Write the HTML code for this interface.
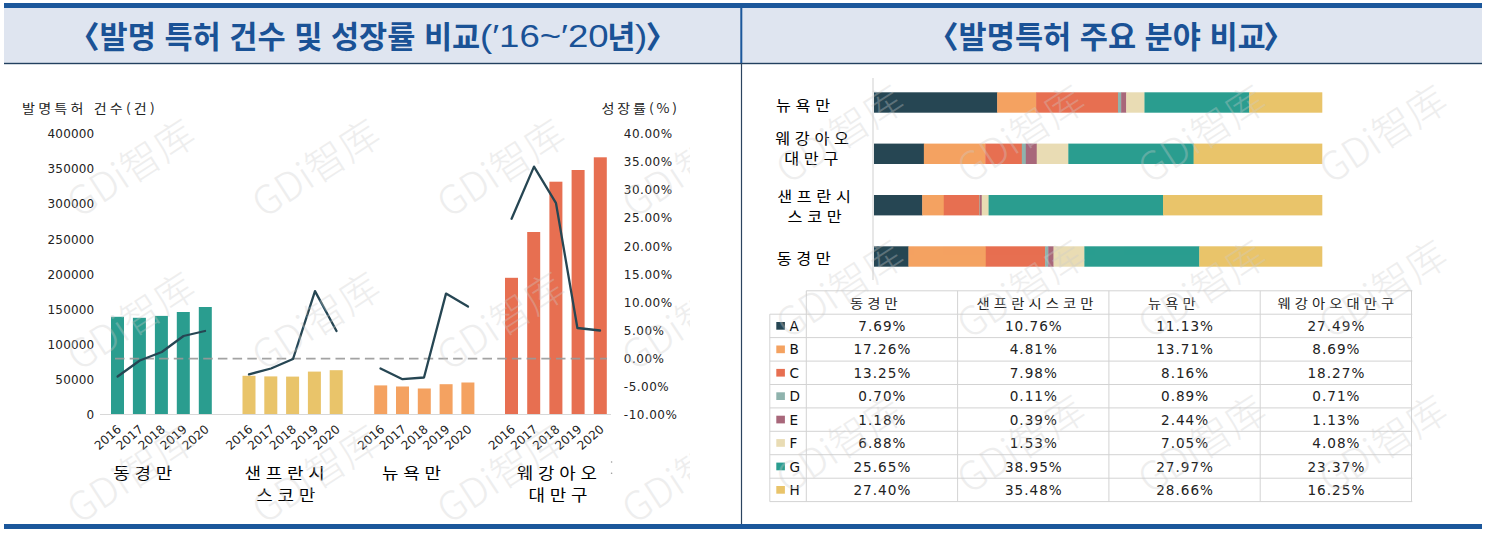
<!DOCTYPE html>
<html lang="ko"><head><meta charset="utf-8"><title>발명특허 비교</title>
<style>
html,body{margin:0;padding:0;background:#fff}
body{width:1485px;height:533px;overflow:hidden;position:relative}
svg{position:absolute;left:0;top:0}
.title{position:absolute;top:12.5px;white-space:nowrap;color:#1a5296;font-size:31px;line-height:44px;height:44px}
.k{font-family:"Noto Sans CJK KR","Liberation Sans",sans-serif;font-weight:700;font-size:30.6px}
.b9{font-weight:900}
.l{font-family:"Liberation Sans","Noto Sans CJK KR",sans-serif;font-weight:400;display:inline-block;transform:scaleX(1.18);transform-origin:0 0;position:relative;top:-1px}
</style></head><body>
<svg width="1485" height="533" viewBox="0 0 1485 533">
<rect x="4" y="3" width="1478" height="5" fill="#1b579b"/>
<rect x="4" y="8" width="1478" height="55" fill="#dfe5f0"/>
<rect x="4" y="62.8" width="1478" height="1.4" fill="#22405f"/>
<rect x="740.3" y="8" width="2" height="55" fill="#1b579b"/>
<rect x="740.9" y="63" width="1.2" height="461" fill="#2b4460"/>
<rect x="4" y="524" width="1478" height="5" fill="#1b579b"/>
<text transform="translate(22.0,112.5) scale(1.1,1)" font-family='"Noto Sans CJK KR","Liberation Sans",sans-serif' font-size="12.8" letter-spacing="2.9" fill="#222">발명특허 건수(건)</text>
<text transform="translate(601.5,112.5) scale(1.1,1)" font-family='"Noto Sans CJK KR","Liberation Sans",sans-serif' font-size="12.8" letter-spacing="2.6" fill="#222">성장률(%)</text>
<text x="94.3" y="138.1" text-anchor="end" font-family='"DejaVu Sans","Liberation Sans",sans-serif' font-size="12" letter-spacing="0.15" fill="#222">400000</text>
<text x="94.3" y="173.2" text-anchor="end" font-family='"DejaVu Sans","Liberation Sans",sans-serif' font-size="12" letter-spacing="0.15" fill="#222">350000</text>
<text x="94.3" y="208.3" text-anchor="end" font-family='"DejaVu Sans","Liberation Sans",sans-serif' font-size="12" letter-spacing="0.15" fill="#222">300000</text>
<text x="94.3" y="243.5" text-anchor="end" font-family='"DejaVu Sans","Liberation Sans",sans-serif' font-size="12" letter-spacing="0.15" fill="#222">250000</text>
<text x="94.3" y="278.6" text-anchor="end" font-family='"DejaVu Sans","Liberation Sans",sans-serif' font-size="12" letter-spacing="0.15" fill="#222">200000</text>
<text x="94.3" y="313.7" text-anchor="end" font-family='"DejaVu Sans","Liberation Sans",sans-serif' font-size="12" letter-spacing="0.15" fill="#222">150000</text>
<text x="94.3" y="348.9" text-anchor="end" font-family='"DejaVu Sans","Liberation Sans",sans-serif' font-size="12" letter-spacing="0.15" fill="#222">100000</text>
<text x="94.3" y="384.0" text-anchor="end" font-family='"DejaVu Sans","Liberation Sans",sans-serif' font-size="12" letter-spacing="0.15" fill="#222">50000</text>
<text x="94.3" y="419.1" text-anchor="end" font-family='"DejaVu Sans","Liberation Sans",sans-serif' font-size="12" letter-spacing="0.15" fill="#222">0</text>
<text x="623.8" y="138.1" font-family='"DejaVu Sans","Liberation Sans",sans-serif' font-size="12" letter-spacing="0.5" fill="#222">40.00%</text>
<text x="623.8" y="166.2" font-family='"DejaVu Sans","Liberation Sans",sans-serif' font-size="12" letter-spacing="0.5" fill="#222">35.00%</text>
<text x="623.8" y="194.3" font-family='"DejaVu Sans","Liberation Sans",sans-serif' font-size="12" letter-spacing="0.5" fill="#222">30.00%</text>
<text x="623.8" y="222.4" font-family='"DejaVu Sans","Liberation Sans",sans-serif' font-size="12" letter-spacing="0.5" fill="#222">25.00%</text>
<text x="623.8" y="250.5" font-family='"DejaVu Sans","Liberation Sans",sans-serif' font-size="12" letter-spacing="0.5" fill="#222">20.00%</text>
<text x="623.8" y="278.6" font-family='"DejaVu Sans","Liberation Sans",sans-serif' font-size="12" letter-spacing="0.5" fill="#222">15.00%</text>
<text x="623.8" y="306.7" font-family='"DejaVu Sans","Liberation Sans",sans-serif' font-size="12" letter-spacing="0.5" fill="#222">10.00%</text>
<text x="623.8" y="334.8" font-family='"DejaVu Sans","Liberation Sans",sans-serif' font-size="12" letter-spacing="0.5" fill="#222">5.00%</text>
<text x="623.8" y="362.9" font-family='"DejaVu Sans","Liberation Sans",sans-serif' font-size="12" letter-spacing="0.5" fill="#222">0.00%</text>
<text x="623.8" y="391.0" font-family='"DejaVu Sans","Liberation Sans",sans-serif' font-size="12" letter-spacing="0.5" fill="#222">-5.00%</text>
<text x="623.8" y="419.1" font-family='"DejaVu Sans","Liberation Sans",sans-serif' font-size="12" letter-spacing="0.5" fill="#222">-10.00%</text>
<rect x="100" y="414" width="511" height="1" fill="#d8d8d8"/>
<rect x="111.0" y="316.8" width="13" height="97.2" fill="#2a9d8f"/>
<rect x="132.9" y="317.8" width="13" height="96.2" fill="#2a9d8f"/>
<rect x="154.9" y="315.9" width="13" height="98.1" fill="#2a9d8f"/>
<rect x="176.8" y="312.0" width="13" height="102.0" fill="#2a9d8f"/>
<rect x="198.8" y="307.0" width="13" height="107.0" fill="#2a9d8f"/>
<rect x="242.5" y="375.8" width="13" height="38.2" fill="#e9c46a"/>
<rect x="264.3" y="376.4" width="13" height="37.6" fill="#e9c46a"/>
<rect x="286.1" y="376.6" width="13" height="37.4" fill="#e9c46a"/>
<rect x="307.9" y="371.6" width="13" height="42.4" fill="#e9c46a"/>
<rect x="329.7" y="370.2" width="13" height="43.8" fill="#e9c46a"/>
<rect x="374.2" y="385.4" width="13" height="28.6" fill="#f4a261"/>
<rect x="396.0" y="386.5" width="13" height="27.5" fill="#f4a261"/>
<rect x="417.8" y="388.5" width="13" height="25.5" fill="#f4a261"/>
<rect x="439.6" y="384.2" width="13" height="29.8" fill="#f4a261"/>
<rect x="461.4" y="382.5" width="13" height="31.5" fill="#f4a261"/>
<rect x="505.0" y="277.8" width="13" height="136.2" fill="#e76f51"/>
<rect x="527.2" y="232.0" width="13" height="182.0" fill="#e76f51"/>
<rect x="549.4" y="181.7" width="13" height="232.3" fill="#e76f51"/>
<rect x="571.6" y="170.0" width="13" height="244.0" fill="#e76f51"/>
<rect x="593.8" y="157.3" width="13" height="256.7" fill="#e76f51"/>
<line x1="115" y1="358.6" x2="607" y2="358.6" stroke="#9a9a9a" stroke-width="1.6" stroke-dasharray="9.5 5.2" opacity="0.9"/>
<polyline points="117.6,376.5 139.8,360.5 161.8,352.0 183.5,336.0 205.0,331.0" fill="none" stroke="#264653" stroke-width="2.3" stroke-linejoin="round" stroke-linecap="round"/>
<polyline points="249.0,374.4 271.0,368.5 293.0,359.0 315.0,291.1 336.5,331.0" fill="none" stroke="#264653" stroke-width="2.3" stroke-linejoin="round" stroke-linecap="round"/>
<polyline points="380.5,368.5 402.5,379.2 424.0,377.5 446.0,293.6 468.0,306.6" fill="none" stroke="#264653" stroke-width="2.3" stroke-linejoin="round" stroke-linecap="round"/>
<polyline points="511.6,218.8 534.0,166.6 556.0,203.2 577.4,328.0 600.0,330.5" fill="none" stroke="#264653" stroke-width="2.3" stroke-linejoin="round" stroke-linecap="round"/>
<text transform="translate(122.0,430.5) rotate(-41)" text-anchor="end" font-family='"DejaVu Sans","Liberation Sans",sans-serif' font-size="12" fill="#222">2016</text>
<text transform="translate(143.9,430.5) rotate(-41)" text-anchor="end" font-family='"DejaVu Sans","Liberation Sans",sans-serif' font-size="12" fill="#222">2017</text>
<text transform="translate(165.9,430.5) rotate(-41)" text-anchor="end" font-family='"DejaVu Sans","Liberation Sans",sans-serif' font-size="12" fill="#222">2018</text>
<text transform="translate(187.8,430.5) rotate(-41)" text-anchor="end" font-family='"DejaVu Sans","Liberation Sans",sans-serif' font-size="12" fill="#222">2019</text>
<text transform="translate(209.8,430.5) rotate(-41)" text-anchor="end" font-family='"DejaVu Sans","Liberation Sans",sans-serif' font-size="12" fill="#222">2020</text>
<text transform="translate(253.5,430.5) rotate(-41)" text-anchor="end" font-family='"DejaVu Sans","Liberation Sans",sans-serif' font-size="12" fill="#222">2016</text>
<text transform="translate(275.3,430.5) rotate(-41)" text-anchor="end" font-family='"DejaVu Sans","Liberation Sans",sans-serif' font-size="12" fill="#222">2017</text>
<text transform="translate(297.1,430.5) rotate(-41)" text-anchor="end" font-family='"DejaVu Sans","Liberation Sans",sans-serif' font-size="12" fill="#222">2018</text>
<text transform="translate(318.9,430.5) rotate(-41)" text-anchor="end" font-family='"DejaVu Sans","Liberation Sans",sans-serif' font-size="12" fill="#222">2019</text>
<text transform="translate(340.7,430.5) rotate(-41)" text-anchor="end" font-family='"DejaVu Sans","Liberation Sans",sans-serif' font-size="12" fill="#222">2020</text>
<text transform="translate(385.2,430.5) rotate(-41)" text-anchor="end" font-family='"DejaVu Sans","Liberation Sans",sans-serif' font-size="12" fill="#222">2016</text>
<text transform="translate(407.0,430.5) rotate(-41)" text-anchor="end" font-family='"DejaVu Sans","Liberation Sans",sans-serif' font-size="12" fill="#222">2017</text>
<text transform="translate(428.8,430.5) rotate(-41)" text-anchor="end" font-family='"DejaVu Sans","Liberation Sans",sans-serif' font-size="12" fill="#222">2018</text>
<text transform="translate(450.6,430.5) rotate(-41)" text-anchor="end" font-family='"DejaVu Sans","Liberation Sans",sans-serif' font-size="12" fill="#222">2019</text>
<text transform="translate(472.4,430.5) rotate(-41)" text-anchor="end" font-family='"DejaVu Sans","Liberation Sans",sans-serif' font-size="12" fill="#222">2020</text>
<text transform="translate(516.0,430.5) rotate(-41)" text-anchor="end" font-family='"DejaVu Sans","Liberation Sans",sans-serif' font-size="12" fill="#222">2016</text>
<text transform="translate(538.2,430.5) rotate(-41)" text-anchor="end" font-family='"DejaVu Sans","Liberation Sans",sans-serif' font-size="12" fill="#222">2017</text>
<text transform="translate(560.4,430.5) rotate(-41)" text-anchor="end" font-family='"DejaVu Sans","Liberation Sans",sans-serif' font-size="12" fill="#222">2018</text>
<text transform="translate(582.6,430.5) rotate(-41)" text-anchor="end" font-family='"DejaVu Sans","Liberation Sans",sans-serif' font-size="12" fill="#222">2019</text>
<text transform="translate(604.8,430.5) rotate(-41)" text-anchor="end" font-family='"DejaVu Sans","Liberation Sans",sans-serif' font-size="12" fill="#222">2020</text>
<text transform="translate(113.2,479.4) scale(1.12,1)" font-family='"Noto Sans CJK KR","Liberation Sans",sans-serif' font-size="16" letter-spacing="4.3" fill="#000">동경만</text>
<text transform="translate(244.4,479.4) scale(1.12,1)" font-family='"Noto Sans CJK KR","Liberation Sans",sans-serif' font-size="16" letter-spacing="4.3" fill="#000">샌프란시</text>
<text transform="translate(256.2,501.0) scale(1.12,1)" font-family='"Noto Sans CJK KR","Liberation Sans",sans-serif' font-size="16" letter-spacing="4.3" fill="#000">스코만</text>
<text transform="translate(381.9,479.4) scale(1.12,1)" font-family='"Noto Sans CJK KR","Liberation Sans",sans-serif' font-size="16" letter-spacing="4.3" fill="#000">뉴욕만</text>
<text transform="translate(516.7,479.4) scale(1.12,1)" font-family='"Noto Sans CJK KR","Liberation Sans",sans-serif' font-size="16" letter-spacing="4.3" fill="#000">웨강아오</text>
<text transform="translate(528.5,500.6) scale(1.12,1)" font-family='"Noto Sans CJK KR","Liberation Sans",sans-serif' font-size="16" letter-spacing="4.3" fill="#000">대만구</text>
<circle cx="611.6" cy="462" r="0.8" fill="#999"/><circle cx="611.6" cy="473.3" r="0.8" fill="#999"/>
<rect x="872.5" y="78" width="1" height="202" fill="#cfcfcf"/>
<rect x="874.00" y="92.3" width="123.47" height="20.4" fill="#264653"/>
<rect x="997.17" y="92.3" width="39.24" height="20.4" fill="#f4a261"/>
<rect x="1036.10" y="92.3" width="82.16" height="20.4" fill="#e76f51"/>
<rect x="1117.96" y="92.3" width="3.48" height="20.4" fill="#8fb3ad"/>
<rect x="1121.14" y="92.3" width="5.36" height="20.4" fill="#a8677a"/>
<rect x="1126.20" y="92.3" width="18.58" height="20.4" fill="#e9dcb4"/>
<rect x="1144.48" y="92.3" width="105.01" height="20.4" fill="#2a9d8f"/>
<rect x="1249.19" y="92.3" width="73.11" height="20.4" fill="#e9c46a"/>
<rect x="874.00" y="143.6" width="50.16" height="20.4" fill="#264653"/>
<rect x="923.86" y="143.6" width="61.71" height="20.4" fill="#f4a261"/>
<rect x="985.27" y="143.6" width="36.85" height="20.4" fill="#e76f51"/>
<rect x="1021.83" y="143.6" width="4.29" height="20.4" fill="#8fb3ad"/>
<rect x="1025.81" y="143.6" width="11.23" height="20.4" fill="#a8677a"/>
<rect x="1036.74" y="143.6" width="31.88" height="20.4" fill="#e9dcb4"/>
<rect x="1068.32" y="143.6" width="125.59" height="20.4" fill="#2a9d8f"/>
<rect x="1193.62" y="143.6" width="128.68" height="20.4" fill="#e9c46a"/>
<rect x="874.00" y="195.0" width="48.50" height="20.4" fill="#264653"/>
<rect x="922.20" y="195.0" width="21.85" height="20.4" fill="#f4a261"/>
<rect x="943.75" y="195.0" width="36.05" height="20.4" fill="#e76f51"/>
<rect x="979.49" y="195.0" width="0.79" height="20.4" fill="#8fb3ad"/>
<rect x="979.99" y="195.0" width="2.05" height="20.4" fill="#a8677a"/>
<rect x="981.73" y="195.0" width="7.15" height="20.4" fill="#e9dcb4"/>
<rect x="988.59" y="195.0" width="174.78" height="20.4" fill="#2a9d8f"/>
<rect x="1163.07" y="195.0" width="159.23" height="20.4" fill="#e9c46a"/>
<rect x="874.00" y="246.3" width="34.75" height="20.4" fill="#264653"/>
<rect x="908.45" y="246.3" width="77.62" height="20.4" fill="#f4a261"/>
<rect x="985.76" y="246.3" width="59.65" height="20.4" fill="#e76f51"/>
<rect x="1045.12" y="246.3" width="3.44" height="20.4" fill="#8fb3ad"/>
<rect x="1048.25" y="246.3" width="5.59" height="20.4" fill="#a8677a"/>
<rect x="1053.54" y="246.3" width="31.12" height="20.4" fill="#e9dcb4"/>
<rect x="1084.36" y="246.3" width="115.20" height="20.4" fill="#2a9d8f"/>
<rect x="1199.26" y="246.3" width="123.04" height="20.4" fill="#e9c46a"/>
<text transform="translate(776.0,111.2) scale(1.12,1)" font-family='"Noto Sans CJK KR","Liberation Sans",sans-serif' font-size="14.5" letter-spacing="4.15" fill="#000">뉴욕만</text>
<text transform="translate(775.3,144.3) scale(1.12,1)" font-family='"Noto Sans CJK KR","Liberation Sans",sans-serif' font-size="14.5" letter-spacing="4.15" fill="#000">웨강아오</text>
<text transform="translate(784.3,163.7) scale(1.12,1)" font-family='"Noto Sans CJK KR","Liberation Sans",sans-serif' font-size="14.5" letter-spacing="4.15" fill="#000">대만구</text>
<text transform="translate(777.2,201.5) scale(1.12,1)" font-family='"Noto Sans CJK KR","Liberation Sans",sans-serif' font-size="14.5" letter-spacing="4.15" fill="#000">샌프란시</text>
<text transform="translate(787.6,221.8) scale(1.12,1)" font-family='"Noto Sans CJK KR","Liberation Sans",sans-serif' font-size="14.5" letter-spacing="4.15" fill="#000">스코만</text>
<text transform="translate(776.7,264.0) scale(1.12,1)" font-family='"Noto Sans CJK KR","Liberation Sans",sans-serif' font-size="14.5" letter-spacing="4.15" fill="#000">동경만</text>
<rect x="806.3" y="290.3" width="606.0" height="1" fill="#d3d3d3"/>
<rect x="769.8" y="313.7" width="642.5" height="1" fill="#d3d3d3"/>
<rect x="769.8" y="337.1" width="642.5" height="1" fill="#d3d3d3"/>
<rect x="769.8" y="360.6" width="642.5" height="1" fill="#d3d3d3"/>
<rect x="769.8" y="384.0" width="642.5" height="1" fill="#d3d3d3"/>
<rect x="769.8" y="407.4" width="642.5" height="1" fill="#d3d3d3"/>
<rect x="769.8" y="430.8" width="642.5" height="1" fill="#d3d3d3"/>
<rect x="769.8" y="454.2" width="642.5" height="1" fill="#d3d3d3"/>
<rect x="769.8" y="477.7" width="642.5" height="1" fill="#d3d3d3"/>
<rect x="769.8" y="501.1" width="642.5" height="1" fill="#d3d3d3"/>
<rect x="769.3" y="314.2" width="1" height="187.4" fill="#d3d3d3"/>
<rect x="805.8" y="290.8" width="1" height="210.8" fill="#d3d3d3"/>
<rect x="957.1" y="290.8" width="1" height="210.8" fill="#d3d3d3"/>
<rect x="1108.4" y="290.8" width="1" height="210.8" fill="#d3d3d3"/>
<rect x="1259.7" y="290.8" width="1" height="210.8" fill="#d3d3d3"/>
<rect x="1411.0" y="290.8" width="1" height="210.8" fill="#d3d3d3"/>
<text transform="translate(850.0,308.1) scale(1.12,1)" font-family='"Noto Sans CJK KR","Liberation Sans",sans-serif' font-size="12.8" letter-spacing="3.65" fill="#222">동경만</text>
<text transform="translate(976.6,308.1) scale(1.12,1)" font-family='"Noto Sans CJK KR","Liberation Sans",sans-serif' font-size="12.8" letter-spacing="3.65" fill="#222">샌프란시스코만</text>
<text transform="translate(1147.9,308.1) scale(1.12,1)" font-family='"Noto Sans CJK KR","Liberation Sans",sans-serif' font-size="12.8" letter-spacing="3.65" fill="#222">뉴욕만</text>
<text transform="translate(1277.5,308.1) scale(1.12,1)" font-family='"Noto Sans CJK KR","Liberation Sans",sans-serif' font-size="12.8" letter-spacing="3.65" fill="#222">웨강아오대만구</text>
<rect x="776.3" y="322.0" width="8.6" height="7.7" fill="#264653"/>
<text x="789.6" y="330.9" font-family='"DejaVu Sans","Liberation Sans",sans-serif' font-size="13.6" fill="#111">A</text>
<text x="882.4" y="330.9" text-anchor="middle" font-family='"DejaVu Sans","Liberation Sans",sans-serif' font-size="13.6" letter-spacing="1.0" fill="#222">7.69%</text>
<text x="1033.8" y="330.9" text-anchor="middle" font-family='"DejaVu Sans","Liberation Sans",sans-serif' font-size="13.6" letter-spacing="1.0" fill="#222">10.76%</text>
<text x="1185.1" y="330.9" text-anchor="middle" font-family='"DejaVu Sans","Liberation Sans",sans-serif' font-size="13.6" letter-spacing="1.0" fill="#222">11.13%</text>
<text x="1336.4" y="330.9" text-anchor="middle" font-family='"DejaVu Sans","Liberation Sans",sans-serif' font-size="13.6" letter-spacing="1.0" fill="#222">27.49%</text>
<rect x="776.3" y="345.5" width="8.6" height="7.7" fill="#f4a261"/>
<text x="789.6" y="354.4" font-family='"DejaVu Sans","Liberation Sans",sans-serif' font-size="13.6" fill="#111">B</text>
<text x="882.4" y="354.4" text-anchor="middle" font-family='"DejaVu Sans","Liberation Sans",sans-serif' font-size="13.6" letter-spacing="1.0" fill="#222">17.26%</text>
<text x="1033.8" y="354.4" text-anchor="middle" font-family='"DejaVu Sans","Liberation Sans",sans-serif' font-size="13.6" letter-spacing="1.0" fill="#222">4.81%</text>
<text x="1185.1" y="354.4" text-anchor="middle" font-family='"DejaVu Sans","Liberation Sans",sans-serif' font-size="13.6" letter-spacing="1.0" fill="#222">13.71%</text>
<text x="1336.4" y="354.4" text-anchor="middle" font-family='"DejaVu Sans","Liberation Sans",sans-serif' font-size="13.6" letter-spacing="1.0" fill="#222">8.69%</text>
<rect x="776.3" y="368.9" width="8.6" height="7.7" fill="#e76f51"/>
<text x="789.6" y="377.8" font-family='"DejaVu Sans","Liberation Sans",sans-serif' font-size="13.6" fill="#111">C</text>
<text x="882.4" y="377.8" text-anchor="middle" font-family='"DejaVu Sans","Liberation Sans",sans-serif' font-size="13.6" letter-spacing="1.0" fill="#222">13.25%</text>
<text x="1033.8" y="377.8" text-anchor="middle" font-family='"DejaVu Sans","Liberation Sans",sans-serif' font-size="13.6" letter-spacing="1.0" fill="#222">7.98%</text>
<text x="1185.1" y="377.8" text-anchor="middle" font-family='"DejaVu Sans","Liberation Sans",sans-serif' font-size="13.6" letter-spacing="1.0" fill="#222">8.16%</text>
<text x="1336.4" y="377.8" text-anchor="middle" font-family='"DejaVu Sans","Liberation Sans",sans-serif' font-size="13.6" letter-spacing="1.0" fill="#222">18.27%</text>
<rect x="776.3" y="392.3" width="8.6" height="7.7" fill="#8fb3ad"/>
<text x="789.6" y="401.2" font-family='"DejaVu Sans","Liberation Sans",sans-serif' font-size="13.6" fill="#111">D</text>
<text x="882.4" y="401.2" text-anchor="middle" font-family='"DejaVu Sans","Liberation Sans",sans-serif' font-size="13.6" letter-spacing="1.0" fill="#222">0.70%</text>
<text x="1033.8" y="401.2" text-anchor="middle" font-family='"DejaVu Sans","Liberation Sans",sans-serif' font-size="13.6" letter-spacing="1.0" fill="#222">0.11%</text>
<text x="1185.1" y="401.2" text-anchor="middle" font-family='"DejaVu Sans","Liberation Sans",sans-serif' font-size="13.6" letter-spacing="1.0" fill="#222">0.89%</text>
<text x="1336.4" y="401.2" text-anchor="middle" font-family='"DejaVu Sans","Liberation Sans",sans-serif' font-size="13.6" letter-spacing="1.0" fill="#222">0.71%</text>
<rect x="776.3" y="415.7" width="8.6" height="7.7" fill="#a8677a"/>
<text x="789.6" y="424.6" font-family='"DejaVu Sans","Liberation Sans",sans-serif' font-size="13.6" fill="#111">E</text>
<text x="882.4" y="424.6" text-anchor="middle" font-family='"DejaVu Sans","Liberation Sans",sans-serif' font-size="13.6" letter-spacing="1.0" fill="#222">1.18%</text>
<text x="1033.8" y="424.6" text-anchor="middle" font-family='"DejaVu Sans","Liberation Sans",sans-serif' font-size="13.6" letter-spacing="1.0" fill="#222">0.39%</text>
<text x="1185.1" y="424.6" text-anchor="middle" font-family='"DejaVu Sans","Liberation Sans",sans-serif' font-size="13.6" letter-spacing="1.0" fill="#222">2.44%</text>
<text x="1336.4" y="424.6" text-anchor="middle" font-family='"DejaVu Sans","Liberation Sans",sans-serif' font-size="13.6" letter-spacing="1.0" fill="#222">1.13%</text>
<rect x="776.3" y="439.1" width="8.6" height="7.7" fill="#e9dcb4"/>
<text x="789.6" y="448.0" font-family='"DejaVu Sans","Liberation Sans",sans-serif' font-size="13.6" fill="#111">F</text>
<text x="882.4" y="448.0" text-anchor="middle" font-family='"DejaVu Sans","Liberation Sans",sans-serif' font-size="13.6" letter-spacing="1.0" fill="#222">6.88%</text>
<text x="1033.8" y="448.0" text-anchor="middle" font-family='"DejaVu Sans","Liberation Sans",sans-serif' font-size="13.6" letter-spacing="1.0" fill="#222">1.53%</text>
<text x="1185.1" y="448.0" text-anchor="middle" font-family='"DejaVu Sans","Liberation Sans",sans-serif' font-size="13.6" letter-spacing="1.0" fill="#222">7.05%</text>
<text x="1336.4" y="448.0" text-anchor="middle" font-family='"DejaVu Sans","Liberation Sans",sans-serif' font-size="13.6" letter-spacing="1.0" fill="#222">4.08%</text>
<rect x="776.3" y="462.6" width="8.6" height="7.7" fill="#2a9d8f"/>
<text x="789.6" y="471.5" font-family='"DejaVu Sans","Liberation Sans",sans-serif' font-size="13.6" fill="#111">G</text>
<text x="882.4" y="471.5" text-anchor="middle" font-family='"DejaVu Sans","Liberation Sans",sans-serif' font-size="13.6" letter-spacing="1.0" fill="#222">25.65%</text>
<text x="1033.8" y="471.5" text-anchor="middle" font-family='"DejaVu Sans","Liberation Sans",sans-serif' font-size="13.6" letter-spacing="1.0" fill="#222">38.95%</text>
<text x="1185.1" y="471.5" text-anchor="middle" font-family='"DejaVu Sans","Liberation Sans",sans-serif' font-size="13.6" letter-spacing="1.0" fill="#222">27.97%</text>
<text x="1336.4" y="471.5" text-anchor="middle" font-family='"DejaVu Sans","Liberation Sans",sans-serif' font-size="13.6" letter-spacing="1.0" fill="#222">23.37%</text>
<rect x="776.3" y="486.0" width="8.6" height="7.7" fill="#e9c46a"/>
<text x="789.6" y="494.9" font-family='"DejaVu Sans","Liberation Sans",sans-serif' font-size="13.6" fill="#111">H</text>
<text x="882.4" y="494.9" text-anchor="middle" font-family='"DejaVu Sans","Liberation Sans",sans-serif' font-size="13.6" letter-spacing="1.0" fill="#222">27.40%</text>
<text x="1033.8" y="494.9" text-anchor="middle" font-family='"DejaVu Sans","Liberation Sans",sans-serif' font-size="13.6" letter-spacing="1.0" fill="#222">35.48%</text>
<text x="1185.1" y="494.9" text-anchor="middle" font-family='"DejaVu Sans","Liberation Sans",sans-serif' font-size="13.6" letter-spacing="1.0" fill="#222">28.66%</text>
<text x="1336.4" y="494.9" text-anchor="middle" font-family='"DejaVu Sans","Liberation Sans",sans-serif' font-size="13.6" letter-spacing="1.0" fill="#222">16.25%</text>
<defs><clipPath id="cl"><rect x="4" y="63.8" width="686" height="460.2"/></clipPath><clipPath id="cr"><rect x="750" y="63.8" width="732" height="460.2"/></clipPath></defs>
<g clip-path="url(#cl)"><text transform="translate(79,66) rotate(-33)" font-family="'Noto Sans CJK SC','Liberation Sans',sans-serif" font-weight="300" font-size="39.5" fill="#cccccc" opacity="0.33">GDi智库</text><text transform="translate(79,219) rotate(-33)" font-family="'Noto Sans CJK SC','Liberation Sans',sans-serif" font-weight="300" font-size="39.5" fill="#cccccc" opacity="0.33">GDi智库</text><text transform="translate(79,372) rotate(-33)" font-family="'Noto Sans CJK SC','Liberation Sans',sans-serif" font-weight="300" font-size="39.5" fill="#cccccc" opacity="0.33">GDi智库</text><text transform="translate(79,525) rotate(-33)" font-family="'Noto Sans CJK SC','Liberation Sans',sans-serif" font-weight="300" font-size="39.5" fill="#cccccc" opacity="0.33">GDi智库</text><text transform="translate(264,66) rotate(-33)" font-family="'Noto Sans CJK SC','Liberation Sans',sans-serif" font-weight="300" font-size="39.5" fill="#cccccc" opacity="0.33">GDi智库</text><text transform="translate(264,219) rotate(-33)" font-family="'Noto Sans CJK SC','Liberation Sans',sans-serif" font-weight="300" font-size="39.5" fill="#cccccc" opacity="0.33">GDi智库</text><text transform="translate(264,372) rotate(-33)" font-family="'Noto Sans CJK SC','Liberation Sans',sans-serif" font-weight="300" font-size="39.5" fill="#cccccc" opacity="0.33">GDi智库</text><text transform="translate(264,525) rotate(-33)" font-family="'Noto Sans CJK SC','Liberation Sans',sans-serif" font-weight="300" font-size="39.5" fill="#cccccc" opacity="0.33">GDi智库</text><text transform="translate(449,66) rotate(-33)" font-family="'Noto Sans CJK SC','Liberation Sans',sans-serif" font-weight="300" font-size="39.5" fill="#cccccc" opacity="0.33">GDi智库</text><text transform="translate(449,219) rotate(-33)" font-family="'Noto Sans CJK SC','Liberation Sans',sans-serif" font-weight="300" font-size="39.5" fill="#cccccc" opacity="0.33">GDi智库</text><text transform="translate(449,372) rotate(-33)" font-family="'Noto Sans CJK SC','Liberation Sans',sans-serif" font-weight="300" font-size="39.5" fill="#cccccc" opacity="0.33">GDi智库</text><text transform="translate(449,525) rotate(-33)" font-family="'Noto Sans CJK SC','Liberation Sans',sans-serif" font-weight="300" font-size="39.5" fill="#cccccc" opacity="0.33">GDi智库</text><text transform="translate(634,66) rotate(-33)" font-family="'Noto Sans CJK SC','Liberation Sans',sans-serif" font-weight="300" font-size="39.5" fill="#cccccc" opacity="0.33">GDi智库</text><text transform="translate(634,219) rotate(-33)" font-family="'Noto Sans CJK SC','Liberation Sans',sans-serif" font-weight="300" font-size="39.5" fill="#cccccc" opacity="0.33">GDi智库</text><text transform="translate(634,372) rotate(-33)" font-family="'Noto Sans CJK SC','Liberation Sans',sans-serif" font-weight="300" font-size="39.5" fill="#cccccc" opacity="0.33">GDi智库</text><text transform="translate(634,525) rotate(-33)" font-family="'Noto Sans CJK SC','Liberation Sans',sans-serif" font-weight="300" font-size="39.5" fill="#cccccc" opacity="0.33">GDi智库</text></g><g clip-path="url(#cr)"><text transform="translate(607,30) rotate(-33)" font-family="'Noto Sans CJK SC','Liberation Sans',sans-serif" font-weight="300" font-size="39.5" fill="#cccccc" opacity="0.33">GDi智库</text><text transform="translate(607,185) rotate(-33)" font-family="'Noto Sans CJK SC','Liberation Sans',sans-serif" font-weight="300" font-size="39.5" fill="#cccccc" opacity="0.33">GDi智库</text><text transform="translate(607,340) rotate(-33)" font-family="'Noto Sans CJK SC','Liberation Sans',sans-serif" font-weight="300" font-size="39.5" fill="#cccccc" opacity="0.33">GDi智库</text><text transform="translate(607,495) rotate(-33)" font-family="'Noto Sans CJK SC','Liberation Sans',sans-serif" font-weight="300" font-size="39.5" fill="#cccccc" opacity="0.33">GDi智库</text><text transform="translate(788,30) rotate(-33)" font-family="'Noto Sans CJK SC','Liberation Sans',sans-serif" font-weight="300" font-size="39.5" fill="#cccccc" opacity="0.33">GDi智库</text><text transform="translate(788,185) rotate(-33)" font-family="'Noto Sans CJK SC','Liberation Sans',sans-serif" font-weight="300" font-size="39.5" fill="#cccccc" opacity="0.33">GDi智库</text><text transform="translate(788,340) rotate(-33)" font-family="'Noto Sans CJK SC','Liberation Sans',sans-serif" font-weight="300" font-size="39.5" fill="#cccccc" opacity="0.33">GDi智库</text><text transform="translate(788,495) rotate(-33)" font-family="'Noto Sans CJK SC','Liberation Sans',sans-serif" font-weight="300" font-size="39.5" fill="#cccccc" opacity="0.33">GDi智库</text><text transform="translate(969,30) rotate(-33)" font-family="'Noto Sans CJK SC','Liberation Sans',sans-serif" font-weight="300" font-size="39.5" fill="#cccccc" opacity="0.33">GDi智库</text><text transform="translate(969,185) rotate(-33)" font-family="'Noto Sans CJK SC','Liberation Sans',sans-serif" font-weight="300" font-size="39.5" fill="#cccccc" opacity="0.33">GDi智库</text><text transform="translate(969,340) rotate(-33)" font-family="'Noto Sans CJK SC','Liberation Sans',sans-serif" font-weight="300" font-size="39.5" fill="#cccccc" opacity="0.33">GDi智库</text><text transform="translate(969,495) rotate(-33)" font-family="'Noto Sans CJK SC','Liberation Sans',sans-serif" font-weight="300" font-size="39.5" fill="#cccccc" opacity="0.33">GDi智库</text><text transform="translate(1150,30) rotate(-33)" font-family="'Noto Sans CJK SC','Liberation Sans',sans-serif" font-weight="300" font-size="39.5" fill="#cccccc" opacity="0.33">GDi智库</text><text transform="translate(1150,185) rotate(-33)" font-family="'Noto Sans CJK SC','Liberation Sans',sans-serif" font-weight="300" font-size="39.5" fill="#cccccc" opacity="0.33">GDi智库</text><text transform="translate(1150,340) rotate(-33)" font-family="'Noto Sans CJK SC','Liberation Sans',sans-serif" font-weight="300" font-size="39.5" fill="#cccccc" opacity="0.33">GDi智库</text><text transform="translate(1150,495) rotate(-33)" font-family="'Noto Sans CJK SC','Liberation Sans',sans-serif" font-weight="300" font-size="39.5" fill="#cccccc" opacity="0.33">GDi智库</text><text transform="translate(1331,30) rotate(-33)" font-family="'Noto Sans CJK SC','Liberation Sans',sans-serif" font-weight="300" font-size="39.5" fill="#cccccc" opacity="0.33">GDi智库</text><text transform="translate(1331,185) rotate(-33)" font-family="'Noto Sans CJK SC','Liberation Sans',sans-serif" font-weight="300" font-size="39.5" fill="#cccccc" opacity="0.33">GDi智库</text><text transform="translate(1331,340) rotate(-33)" font-family="'Noto Sans CJK SC','Liberation Sans',sans-serif" font-weight="300" font-size="39.5" fill="#cccccc" opacity="0.33">GDi智库</text><text transform="translate(1331,495) rotate(-33)" font-family="'Noto Sans CJK SC','Liberation Sans',sans-serif" font-weight="300" font-size="39.5" fill="#cccccc" opacity="0.33">GDi智库</text></g>
</svg>
<div class="title" style="left:69px"><span class="k b9">〈</span><span class="k">발명 특허 건수 및 성장률 비교</span><span class="l" style="margin-right:18px">(′16~′20</span><span class="k">년</span><span class="l">)</span><span class="k b9">〉</span></div>
<div class="title" style="left:928px"><span class="k b9">〈</span><span class="k">발명특허 주요 분야 비교</span><span class="k b9" style="margin-left:-2.5px">〉</span></div>
</body></html>
